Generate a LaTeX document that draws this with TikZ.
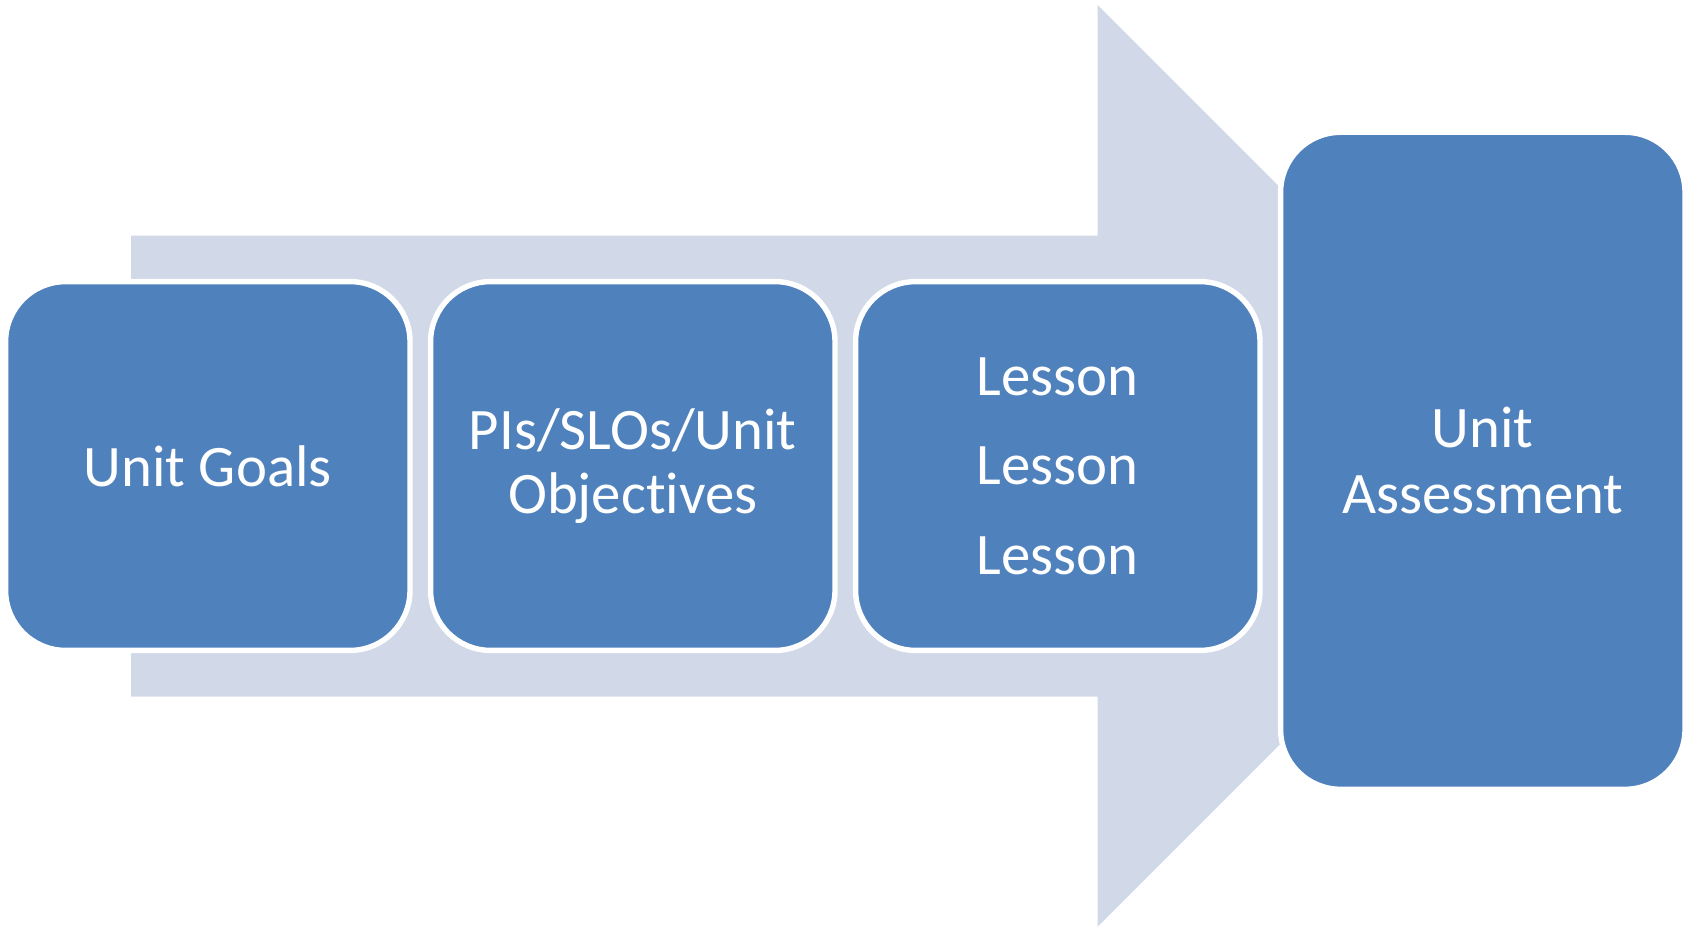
\documentclass[tikz,border=0pt]{standalone}
\usepackage{fontspec}
\setmainfont{Carlito}[Ligatures=NoCommon]
\definecolor{boxblue}{HTML}{4F81BD}
\definecolor{arrowgray}{HTML}{D1D8E8}
\tikzset{
  stagebox/.style={draw=white, line width=5.4pt, fill=boxblue, rounded corners=60pt,
    minimum width=404.4pt, text=white, align=center, inner sep=0pt,
    font=\fontsize{58.8}{64.3}\selectfont},
}
\begin{document}
\begin{tikzpicture}[x=1pt,y=-1pt]
\useasboundingbox (0,0) rectangle (1692,928);
\fill[arrowgray] (131,235.7) -- (1097.7,235.7) -- (1097.7,5) -- (1558.5,465.8)
  -- (1097.7,926.7) -- (1097.7,696.7) -- (131,696.7) -- cycle;
\node[stagebox, minimum height=368.8pt] (goals) at (207.8,466) {Unit Goals};
\node[stagebox, minimum height=368.8pt] (objectives) at (632.8,466) {PIs/SLOs/Unit\\Objectives};
\node[stagebox, minimum height=368.8pt, font=\fontsize{58.8}{89.5}\selectfont] (lessons) at (1057.8,466) {Lesson\\Lesson\\Lesson};
\node[stagebox, minimum height=657pt, font=\fontsize{58.8}{66}\selectfont] (assessment) at (1482.8,460.8) {Unit\\Assessment};
\end{tikzpicture}
\end{document}
